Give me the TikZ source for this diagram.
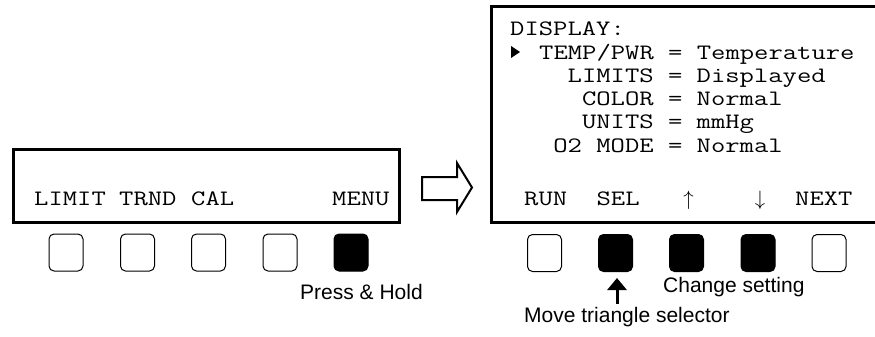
\documentclass[tikz,border=0pt]{standalone}
\usepackage{fontspec}
\setmainfont{Liberation Sans}
\setmonofont{Latin Modern Mono}[FakeStretch=1.265]
\usetikzlibrary{arrows.meta}
\tikzset{
  screen/.style={draw, line width=3pt, inner sep=0pt},
  btn/.style={draw, line width=1pt, rounded corners=5pt, minimum width=34pt, minimum height=37pt, inner sep=0pt},
  btnon/.style={btn, fill=black},
  lcd/.style={inner sep=0pt, anchor=base west, font=\ttfamily\fontsize{22}{24}\selectfont},
  lbl/.style={inner sep=0pt, anchor=base west, font=\fontsize{21}{24}\selectfont},
}
\begin{document}
\begin{tikzpicture}[x=1pt,y=-1pt]
\useasboundingbox (0,0) rectangle (875,337);
% screens
\node[screen, minimum width=386pt, minimum height=73pt] (scrL) at (206,185.5) {};
\node[screen, minimum width=392pt, minimum height=215pt] (scrR) at (687,114.5) {};
% left soft keys
\node[lcd] (tLimit) at (34,205) {LIMIT};
\node[lcd] (tTrnd) at (119,205) {TRND};
\node[lcd] (tCal) at (191,205) {CAL};
\node[lcd] (tMenu) at (332,205) {MENU};
% left buttons
\node[btn] (bL1) at (66,252.5) {};
\node[btn] (bL2) at (137.5,252.5) {};
\node[btn] (bL3) at (208.5,252.5) {};
\node[btn] (bL4) at (280,252.5) {};
\node[btnon] (bL5) at (351,252.5) {};
\node[lbl] (press) at (300,299) {Press \& Hold};
% block arrow
\draw[line width=2pt, line join=miter] (422,177) -- (457,177) -- (457,163) -- (472,187.5) -- (457,212) -- (457,200) -- (422,200) -- cycle;
% right screen text
\node[lcd] (l0) at (510,36) {DISPLAY:};
\fill (511,46) -- (520,52) -- (511,58) -- cycle;
\node[lcd] (l1) at (539,59.2) {TEMP/PWR = Temperature};
\node[lcd] (l2) at (567.5,82.4) {LIMITS = Displayed};
\node[lcd] (l3) at (581.8,105.6) {COLOR = Normal};
\node[lcd] (l4) at (581.8,128.8) {UNITS = mmHg};
\node[lcd] (l5) at (553.2,152) {O2 MODE = Normal};
\node[lcd] (tRun) at (524,205) {RUN};
\node[lcd] (tSel) at (596.4,205) {SEL};
\node[lcd, anchor=base] (tUp) at (688.5,205) {$\uparrow$};
\node[lcd, anchor=base] (tDown) at (760,205) {$\downarrow$};
\node[lcd] (tNext) at (795,205) {NEXT};
% right buttons
\node[btn] (bR1) at (544.5,253) {};
\node[btnon] (bR2) at (615.5,253) {};
\node[btnon] (bR3) at (686.5,253) {};
\node[btnon] (bR4) at (758,253) {};
\node[btn] (bR5) at (829,253) {};
\node[lbl] (change) at (663,292) {Change setting};
\node[lbl] (move) at (524,322) {Move triangle selector};
\coordinate (arrS) at (617,303.5);
\coordinate (arrE) at (617,278);
\draw[line width=3pt, -{Triangle[length=12pt,width=19pt]}] (arrS) -- (arrE);
\end{tikzpicture}
\end{document}
